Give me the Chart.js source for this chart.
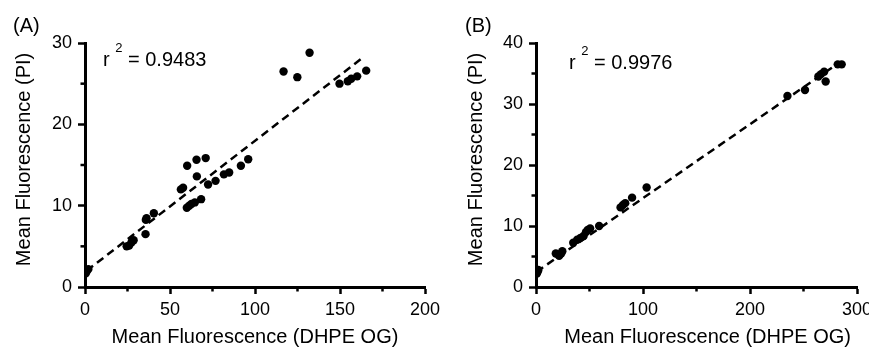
<!DOCTYPE html>
<html>
<head>
<meta charset="utf-8">
<script src="https://cdn.jsdelivr.net/npm/chart.js@4.4.1/dist/chart.umd.min.js"></script>
<style>
  body { margin: 0; background: #fff; overflow: hidden; width: 869px; height: 352px; position: relative; }
  canvas { position: absolute; top: 0; }
  .lbl { position: absolute; font-family: 'Liberation Sans', Arial, sans-serif; font-size: 20px; line-height: 1; color: #000; white-space: pre; }
  .sup { font-size: 13px; position: relative; top: -14px; }
</style>
</head>
<body>
<canvas id="chartA" width="450" height="352" style="left:0"></canvas>
<canvas id="chartB" width="450" height="352" style="left:435px"></canvas>
<div class="lbl" style="left:13px; top:15px">(A)</div>
<div class="lbl" style="left:465px; top:15px">(B)</div>
<div class="lbl" style="left:103px; top:49px">r <span class="sup">2</span> = 0.9483</div>
<div class="lbl" style="left:569px; top:52px">r <span class="sup">2</span> = 0.9976</div>
<script>
// panel A: DHPE OG vs PI
const xA = [0.5, 1.2, 2, 24.5, 26, 27.4, 28.6, 35.6, 35.8, 36.2, 40.5, 56.4, 57.7, 60.1, 65.6, 71.0, 65.8,
  59.9, 61.3, 62.6, 64.6, 68.3, 72.4, 76.8, 81.7, 84.8, 91.7, 96.0, 116.8, 124.9, 132.1,
  149.7, 154.6, 156.6, 160.1, 165.4];
const yA = [1.7, 2.0, 2.2, 5.0, 5.1, 5.5, 5.75, 6.5, 8.25, 8.45, 9.07, 12.0, 12.2, 14.9, 15.65, 15.85, 13.6,
  9.75, 10.0, 10.2, 10.4, 10.8, 12.6, 13.05, 13.85, 14.08, 14.9, 15.7, 26.5, 25.8, 28.8,
  25.0, 25.3, 25.6, 25.9, 26.6];
const fitAx = [1, 164];
const fitAy = [2.0, 28.3];

// panel B
const xB = [0.8, 1.5, 2.2, 18.5, 21.6, 23.5, 24.6, 34.8, 38.5, 41.5, 44.5, 46.7, 48.3, 50.6, 59.0,
  79.0, 81.3, 83.4, 89.8, 103.4, 235.0, 251.4, 263.9, 266.4, 269.3, 270.7, 282.0, 285.7];
const yB = [2.2, 2.5, 2.8, 5.5, 5.1, 5.5, 5.85, 7.25, 7.75, 8.05, 8.35, 9.0, 9.35, 9.6, 10.0,
  13.05, 13.45, 13.75, 14.65, 16.3, 31.3, 32.3, 34.5, 34.9, 35.3, 33.7, 36.5, 36.5];
const fitBx = [0.5, 281];
const fitBy = [2.5, 36.5];

// ticks (all drawn) and the ones that get a label
const tickAx = [0, 25, 50, 75, 100, 125, 150, 175, 200];
const labelAx = [0, 50, 100, 150, 200];
const tickAy = [0, 5, 10, 15, 20, 25, 30];
const labelAy = [0, 10, 20, 30];
const tickBx = [0, 50, 100, 150, 200, 250, 300];
const labelBx = [0, 100, 200, 300];
const tickBy = [0, 5, 10, 15, 20, 25, 30, 35, 40];
const labelBy = [0, 10, 20, 30, 40];

const FONT = "'Liberation Sans', Arial, sans-serif";
const NBSP = '\u00a0';

function toPoints(xs, ys) {
  return xs.map((x, i) => ({ x: x, y: ys[i] }));
}

// shorter tick marks for unlabelled ticks
const minorTicks = {
  id: 'minorTicks',
  afterDraw(chart) {
    const ctx = chart.ctx;
    const area = chart.chartArea;
    ctx.save();
    ctx.strokeStyle = '#000';
    ctx.lineWidth = 2.5;
    chart.scales.x.ticks.forEach((t) => {
      if (t.label !== '') return;
      const px = chart.scales.x.getPixelForValue(t.value);
      ctx.beginPath();
      ctx.moveTo(px, area.bottom);
      ctx.lineTo(px, area.bottom + 4.5);
      ctx.stroke();
    });
    chart.scales.y.ticks.forEach((t) => {
      if (t.label !== '') return;
      const py = chart.scales.y.getPixelForValue(t.value);
      ctx.beginPath();
      ctx.moveTo(area.left, py);
      ctx.lineTo(area.left - 4.5, py);
      ctx.stroke();
    });
    ctx.restore();
  },
};

function axis(min, max, tickVals, labelVals, title, titlePad, tickPad) {
  return {
    type: 'linear',
    min: min,
    max: max,
    afterBuildTicks: (scale) => { scale.ticks = tickVals.map((v) => ({ value: v })); },
    ticks: {
      autoSkip: false,
      maxRotation: 0,
      padding: tickPad,
      color: '#000',
      font: { family: FONT, size: 18 },
      callback: (v) => (labelVals.includes(v) ? String(v) : ''),
    },
    grid: {
      drawOnChartArea: false,
      drawTicks: true,
      tickLength: 7,
      tickWidth: 2.5,
      tickColor: (c) => (c.tick && c.tick.label === '' ? 'rgba(0,0,0,0)' : '#000'),
    },
    border: { display: true, color: '#000', width: 3 },
    title: {
      display: true,
      text: title,
      color: '#000',
      font: { family: FONT, size: 20 },
      padding: titlePad,
    },
  };
}

function makeChart(id, pts, line, xAxis, yAxis, yWidth, padRight) {
  xAxis.afterFit = (scale) => { scale.height = 65; };
  yAxis.afterFit = (scale) => { scale.width = yWidth; };
  return new Chart(document.getElementById(id), {
    type: 'scatter',
    data: {
      datasets: [
        {
          data: pts,
          pointRadius: 4.2,
          pointBackgroundColor: '#000',
          pointBorderWidth: 0,
          showLine: false,
        },
        {
          data: line,
          showLine: true,
          pointRadius: 0,
          borderColor: '#000',
          borderWidth: 2.5,
          borderDash: [8, 5],
        },
      ],
    },
    options: {
      responsive: false,
      animation: false,
      devicePixelRatio: 1,
      layout: { padding: { left: 0, top: 43, right: padRight, bottom: 0 } },
      plugins: { legend: { display: false }, tooltip: { enabled: false } },
      scales: { x: xAxis, y: yAxis },
    },
    plugins: [minorTicks],
  });
}

makeChart('chartA', toPoints(xA, yA), toPoints(fitAx, fitAy),
  axis(0, 200, tickAx, labelAx, 'Mean Fluorescence (DHPE OG)', { top: 0, bottom: 3 }, 5),
  axis(0, 30, tickAy, labelAy, NBSP + NBSP + 'Mean Fluorescence (PI)', { top: 12, bottom: 0 }, 6),
  85, 25);

makeChart('chartB', toPoints(xB, yB), toPoints(fitBx, fitBy),
  axis(0, 300, tickBx, labelBx, NBSP.repeat(4) + 'Mean Fluorescence (DHPE OG)', { top: 0, bottom: 3 }, 5),
  axis(0, 40, tickBy, labelBy, NBSP + NBSP + 'Mean Fluorescence (PI)', { top: 29, bottom: 0 }, 6),
  101, 28);
</script>
</body>
</html>
